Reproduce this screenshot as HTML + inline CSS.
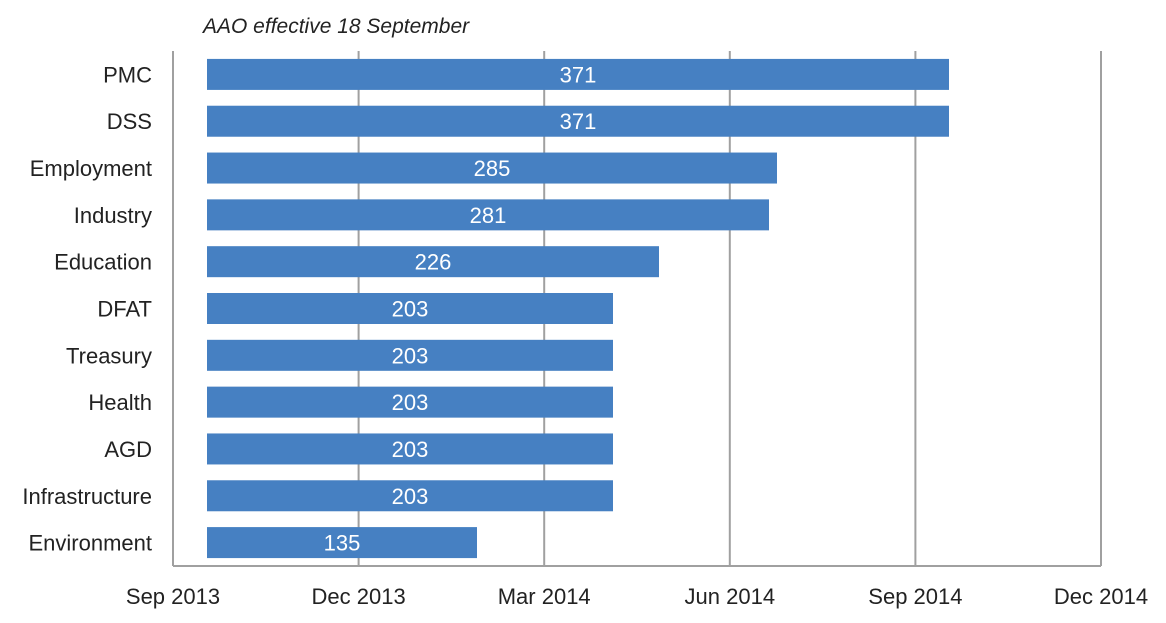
<!DOCTYPE html>
<html><head><meta charset="utf-8"><style>
html,body{margin:0;padding:0;background:#fff;}
svg text{font-family:"Liberation Sans",Arial,sans-serif;}
</style></head><body>
<svg id="chart" width="1166" height="618" xmlns="http://www.w3.org/2000/svg">
<text x="203" y="33" font-size="21" font-style="italic" fill="#222">AAO effective 18 September</text>
<g id="grid"></g>
<g id="bars"></g>
<g id="ylab"></g>
<g id="xlab"></g>
</svg>
<script>
const categories = ["PMC","DSS","Employment","Industry","Education","DFAT","Treasury","Health","AGD","Infrastructure","Environment"];
const durations = [371,371,285,281,226,203,203,203,203,203,135];
const startDay = 17; // days after 1 Sep 2013 (18 September)
const tickLabels = ["Sep 2013","Dec 2013","Mar 2014","Jun 2014","Sep 2014","Dec 2014"];
const axisMaxDays = 464;

const NS="http://www.w3.org/2000/svg";
const L=173,R=1101,T=51,B=566;
const x=d=>L+(d/axisMaxDays)*(R-L);
const band=(B-T)/categories.length;
const yc=i=>T+band*(i+0.5);
function mk(tag,attrs,parent){const e=document.createElementNS(NS,tag);for(const k in attrs)e.setAttribute(k,attrs[k]);parent.appendChild(e);return e;}
const grid=document.getElementById('grid'),bars=document.getElementById('bars'),ylab=document.getElementById('ylab'),xlab=document.getElementById('xlab');
const n=tickLabels.length;
tickLabels.forEach((t,i)=>{
  const px=L+(R-L)*i/(n-1);
  const ln=mk('line',{x1:px,x2:px,y1:T,y2:B+(i>0&&i<n-1?0:0),stroke:'#a0a0a0','stroke-width':2},grid);
  
  
  const tx=mk('text',{x:px,y:604,'font-size':22,'text-anchor':'middle',fill:'#222'},xlab);
  tx.textContent=t;
  
  
});
const ax=mk('line',{x1:L,x2:R,y1:B,y2:B,stroke:'#a0a0a0','stroke-width':2},grid);


const bh=31;
categories.forEach((c,i)=>{
  const x0=x(startDay)+0, x1=x0+durations[i]*((R-L)/axisMaxDays);
  const r=mk('rect',{x:x0,y:yc(i)-bh/2,width:x1-x0,height:bh,fill:'#4680c2'},bars);
  
  
  const v=mk('text',{x:(x0+x1)/2,y:yc(i)+8,'font-size':22,'text-anchor':'middle',fill:'#fff'},bars);
  v.textContent=durations[i];
  
  
  const lb=mk('text',{x:152,y:yc(i)+8,'font-size':22,'text-anchor':'end',fill:'#222'},ylab);
  lb.textContent=c;
  
  
});
</script>
</body></html>
